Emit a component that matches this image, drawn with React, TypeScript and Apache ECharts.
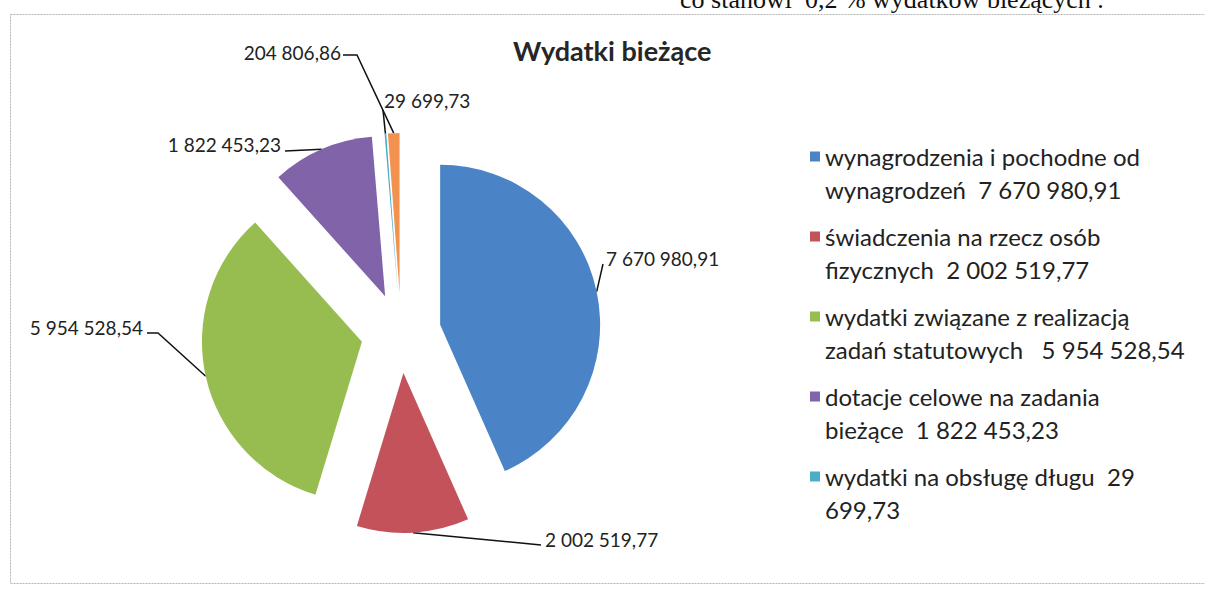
import React, { useEffect, useRef } from 'react';
import * as echarts from 'echarts';

// ---- data ----
const categories = [
  'wynagrodzenia i pochodne od wynagrodzeń',
  'świadczenia na rzecz osób fizycznych',
  'wydatki związane z realizacją zadań statutowych',
  'dotacje celowe na zadania bieżące',
  'wydatki na obsługę długu',
  'pozostałe wydatki bieżące',
];
const values = [7670980.91, 2002519.77, 5954528.54, 1822453.23, 29699.73, 204806.86];
const legendLabels = [
  'wynagrodzenia i pochodne od\nwynagrodzeń  7 670 980,91',
  'świadczenia na rzecz osób\nfizycznych  2 002 519,77',
  'wydatki związane z realizacją\nzadań statutowych   5 954 528,54',
  'dotacje celowe na zadania\nbieżące  1 822 453,23',
  'wydatki na obsługę długu  29\n699,73',
];
const titleText = 'Wydatki bieżące';
const noteText = 'co stanowi  0,2 % wydatków bieżących .';

// ---- styles / layout ----
const colors = ['#4a84c7', '#c3525a', '#97bd50', '#8063a8', '#4badc6', '#f3924f'];
const CENTER = [401, 333];
const RADIUS = 160;
const EXPLODE = 40;
const labelPlacement = [
  { x: 606, y: 258, align: 'left', line: [[603, 264]] },
  { x: 545, y: 539, align: 'left', line: [[541, 545]] },
  { x: 143, y: 327, align: 'right', line: [[158, 333], [147, 333]] },
  { x: 281, y: 144, align: 'right', line: [[285, 151]] },
  { x: 384, y: 100, align: 'left', line: [[383, 110]] },
  { x: 341, y: 52, align: 'right', line: [[357, 55], [343, 55]] },
];

const fmt = (v: number) => {
  const [i, d] = v.toFixed(2).split('.');
  return i.replace(/\B(?=(\d{3})+(?!\d))/g, ' ') + ',' + d;
};

const total = values.reduce((a, b) => a + b, 0);
const midAngles = values.map((v, i) => {
  const before = values.slice(0, i).reduce((a, b) => a + b, 0);
  return ((before + v / 2) / total) * 360;
});
const polar = (i: number, r: number) => {
  const t = (midAngles[i] * Math.PI) / 180;
  return [CENTER[0] + r * Math.sin(t), CENTER[1] - r * Math.cos(t)];
};

export default function App() {
  const ref = useRef<HTMLDivElement>(null);
  useEffect(() => {
    if (!ref.current) return;
    const chart = echarts.init(ref.current, undefined, { renderer: 'svg' });
    chart.setOption({
      animation: false,
      backgroundColor: '#ffffff',
      title: {
        text: titleText,
        left: 508,
        top: 32,
        textStyle: { fontFamily: 'Lato', fontWeight: 'bold', fontSize: 27, color: '#262626' },
      },
      legend: {
        orient: 'vertical',
        left: 805,
        top: 135,
        selectedMode: false,
        icon: 'path://M0,0L0.01,0M0,11.5L10,11.5L10,21.5L0,21.5ZM0,66L0.01,66',
        itemWidth: 10,
        itemHeight: 66,
        itemGap: 14,
        itemStyle: { borderWidth: 0 },
        data: categories.slice(0, 5).map((n, i) => ({
          name: n,
          itemStyle: { color: colors[i], opacity: 1, borderWidth: 0 },
        })),
        formatter: (name: string) => legendLabels[categories.indexOf(name)],
        textStyle: { fontFamily: 'Lato', fontSize: 24, lineHeight: 33, color: '#222' },
      },
      graphic: [
        {
          type: 'rect',
          shape: { x: 10.5, y: 14.5, width: 1200, height: 569 },
          style: { fill: 'none', stroke: '#b5b5b5', lineWidth: 1, lineDash: [2, 1] },
          silent: true,
        },
        {
          type: 'text',
          x: 680,
          y: 12,
          style: {
            text: noteText,
            fontFamily: '"Liberation Serif"',
            fontSize: 26,
            fill: '#111',
            verticalAlign: 'bottom',
          },
          silent: true,
        },
      ],
      series: values.map((_, si) => ({
        type: 'pie',
        center: polar(si, EXPLODE),
        radius: RADIUS,
        startAngle: 90,
        clockwise: true,
        avoidLabelOverlap: false,
        minAngle: 0,
        silent: true,
        itemStyle: { borderWidth: 0 },
        emphasis: { disabled: true },
        data: values.map((v, j) => ({
          name: categories[j],
          value: v,
          itemStyle: { color: j === si ? colors[j] : 'rgba(0,0,0,0)' },
          label: { show: j === si },
          labelLine: { show: j === si },
        })),
        label: {
          position: 'outside',
          formatter: (p: any) => fmt(p.value),
          fontFamily: 'Lato',
          fontSize: 19,
          color: '#222',
        },
        labelLine: { lineStyle: { color: '#111', width: 1.5 } },
        labelLayout: (p: any) => {
          const L = labelPlacement[p.dataIndex];
          return {
            x: L.x,
            y: L.y,
            align: L.align,
            verticalAlign: 'middle',
            labelLinePoints: [polar(p.dataIndex, RADIUS + EXPLODE), ...L.line],
          };
        },
      })),
    });
    return () => chart.dispose();
  }, []);
  return (
    <div
      ref={ref}
      style={{ position: 'fixed', left: 0, top: 0, width: 1205, height: 590 }}
    />
  );
}
